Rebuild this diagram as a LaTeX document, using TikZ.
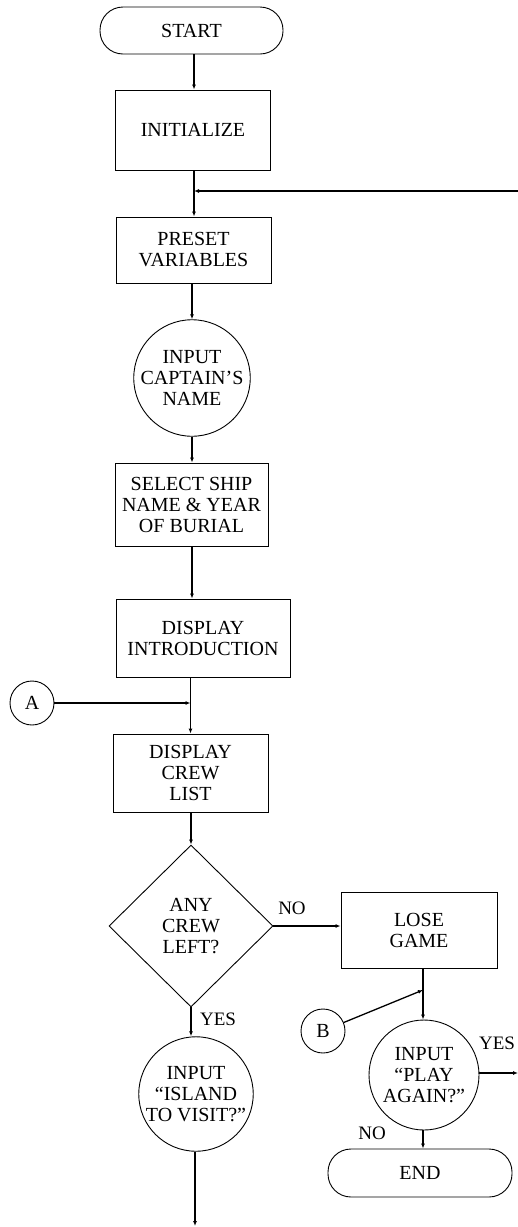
\documentclass[tikz,border=0pt]{standalone}
\usepackage{fontspec}
\setmainfont{Liberation Serif}
\usetikzlibrary{shapes.geometric,arrows.meta}
\begin{document}
\begin{tikzpicture}[x=1pt,y=-1pt,
  every node/.style={font=\fontsize{20}{21}\selectfont, align=center, inner sep=0pt},
  box/.style={draw, line width=0.9pt, rectangle},
  term/.style={draw, line width=0.9pt, rectangle, rounded corners=23pt},
  io/.style={draw, line width=0.9pt, circle},
  link/.style={draw, line width=0.9pt, circle, minimum size=44pt},
  decide/.style={draw, line width=0.9pt, diamond, minimum width=164pt, minimum height=162pt},
  flow/.style={line width=1.3pt, -{Latex[length=5pt,width=4pt]}},
  lbl/.style={font=\fontsize{19}{20}\selectfont}
]
\useasboundingbox (0,0) rectangle (518,1227);

% main column
\node[term, minimum width=183pt, minimum height=47pt] (start) at (191.5,30.5) {START};
\node[box, minimum width=155pt, minimum height=80pt] (init) at (193,130) {INITIALIZE};
\node[box, minimum width=155pt, minimum height=66pt] (pre) at (193.5,250) {PRESET\\VARIABLES};
\node[io, minimum size=110pt] (cap) at (192,378) {INPUT\\CAPTAIN’S\\NAME};
\node[box, minimum width=153pt, minimum height=83pt] (ship) at (191.5,504.5) {SELECT SHIP\\NAME \& YEAR\\OF BURIAL};
\node[box, minimum width=174pt, minimum height=78pt] (intro) at (203,638) {DISPLAY\\INTRODUCTION};
\node[link] (A) at (32,703) {A};
\node[box, minimum width=155pt, minimum height=78pt] (crew) at (190.5,773) {DISPLAY\\CREW\\LIST};
\node[decide] (left) at (191,926) {ANY\\CREW\\LEFT?};
\node[io, minimum size=112pt] (island) at (196,1094) {INPUT\\“ISLAND\\TO VISIT?”};

% right column
\node[box, minimum width=156pt, minimum height=76pt] (lose) at (419,930) {LOSE\\GAME};
\node[link] (B) at (323,1031) {B};
\node[io, minimum size=110pt] (play) at (424,1075) {INPUT\\“PLAY\\AGAIN?”};
\node[term, minimum width=184pt, minimum height=48pt] (end) at (420,1173) {END};

% branch labels
\node[lbl] (no1) at (292,908) {NO};
\node[lbl] (yes1) at (218,1019) {YES};
\node[lbl] (yes2) at (497,1043) {YES};
\node[lbl] (no2) at (372,1133) {NO};

% free ends and junctions
\coordinate (j1) at (194,191);
\coordinate (r1) at (518,191);
\coordinate (j2) at (423,990);
\coordinate (r2) at (518,1073);
\coordinate (b1) at (195,1226);

% connectors
\draw[flow] (start.south -| j1) -- (init.north -| j1);
\draw[flow] (init.south -| j1) -- (pre.north -| j1);
\draw[flow] (r1) -- (j1);
\draw[flow] (pre.south -| cap.north) -- (cap.north);
\draw[flow] (cap.south) -- (ship.north -| cap.south);
\draw[flow] (ship.south -| cap.south) -- (intro.north -| cap.south);
\draw[flow] (intro.south -| crew.north) -- (crew.north);
\draw[flow] (A.east) -- (A.east -| crew.north);
\draw[flow] (crew.south -| left.north) -- (left.north);
\draw[flow] (left.east) -- (left.east -| lose.west);
\draw[flow] (left.south) -- (left.south |- island.north);
\draw[flow] (island.south -| b1) -- (b1);
\draw[flow] (lose.south -| j2) -- (play.north -| j2);
\draw[flow] (B) -- (j2);
\draw[flow] (play.east |- r2) -- (r2);
\draw[flow] (play.south -| j2) -- (end.north -| j2);
\end{tikzpicture}
\end{document}
